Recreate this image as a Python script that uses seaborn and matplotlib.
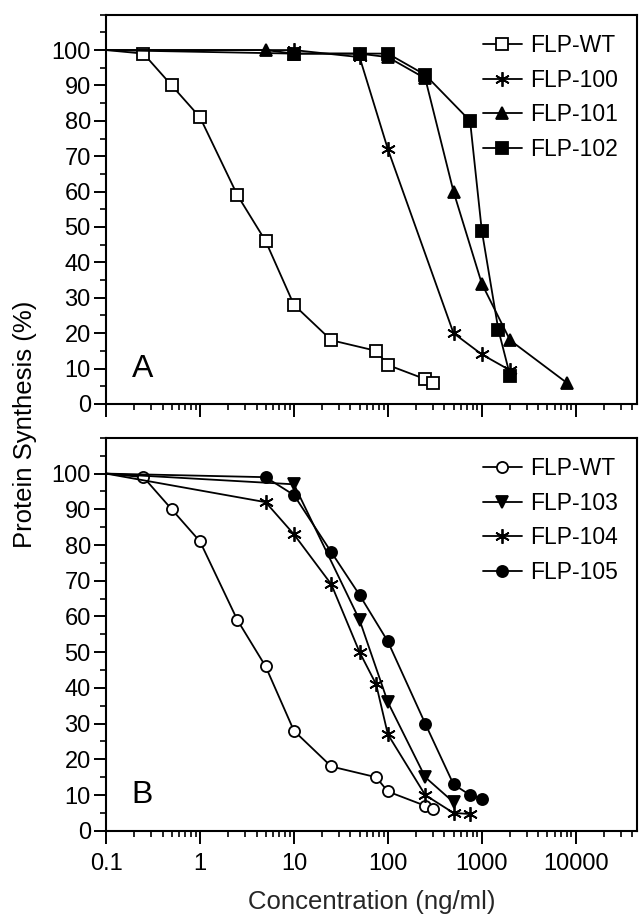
import numpy as np
import pandas as pd
import matplotlib
matplotlib.use("Agg")
import matplotlib.pyplot as plt
from matplotlib.ticker import LogLocator, FixedLocator, MultipleLocator, FuncFormatter
import seaborn as sns

# ---- data (x in ng/ml, y in % protein synthesis) ----
# first point (0.1, 100) is the line start at the axis, drawn without a marker
wt_x = [0.1, 0.25, 0.5, 1, 2.5, 5, 10, 25, 75, 100, 250, 300]
wt_y = [100, 99, 90, 81, 59, 46, 28, 18, 15, 11, 7, 6]

flp100_x = [0.1, 10, 50, 100, 500, 1000, 2000]
flp100_y = [100, 100, 98, 72, 20, 14, 9.5]

flp101_x = [0.1, 5, 10, 50, 100, 250, 500, 1000, 2000, 8000]
flp101_y = [100, 100, 99, 99, 98, 92, 60, 34, 18, 6]

flp102_x = [0.1, 10, 50, 100, 250, 750, 1000, 1500, 2000]
flp102_y = [100, 99, 99, 99, 93, 80, 49, 21, 8]

flp103_x = [0.1, 10, 50, 100, 250, 500]
flp103_y = [100, 97, 59, 36, 15, 8]

flp104_x = [0.1, 5, 10, 25, 50, 75, 100, 250, 500, 750]
flp104_y = [100, 92, 83, 69, 50, 41, 27, 10, 5, 4.7]

flp105_x = [0.1, 5, 10, 25, 50, 100, 250, 500, 750, 1000]
flp105_y = [100, 99, 94, 78, 66, 53, 30, 13, 10, 9]

x_ticks = [0.1, 1, 10, 100, 1000, 10000]
y_ticks = list(range(0, 101, 10))

ASTER = (6, 2, 0)

panel_a = [
    ("FLP-WT", wt_x, wt_y, "s", "white"),
    ("FLP-100", flp100_x, flp100_y, ASTER, "black"),
    ("FLP-101", flp101_x, flp101_y, "^", "black"),
    ("FLP-102", flp102_x, flp102_y, "s", "black"),
]
panel_b = [
    ("FLP-WT", wt_x, wt_y, "o", "white"),
    ("FLP-103", flp103_x, flp103_y, "v", "black"),
    ("FLP-104", flp104_x, flp104_y, ASTER, "black"),
    ("FLP-105", flp105_x, flp105_y, "o", "black"),
]

sns.set_style("ticks")
plt.rcParams["font.family"] = ["Liberation Sans", "DejaVu Sans"]
plt.rcParams["text.color"] = "black"
plt.rcParams["axes.edgecolor"] = "black"
plt.rcParams["xtick.color"] = "black"
plt.rcParams["ytick.color"] = "black"

fig = plt.figure(figsize=(6.39, 9.18), dpi=100)
ax_a = fig.add_axes([0.166, 0.560, 0.831, 0.424])
ax_b = fig.add_axes([0.166, 0.095, 0.831, 0.428])


def draw_panel(ax, series, letter, show_xlabels):
    for name, xs, ys, mk, face in series:
        df = pd.DataFrame({"conc": xs, "synth": ys})
        sns.lineplot(data=df, x="conc", y="synth", ax=ax, color="black",
                     linewidth=1.3, marker=mk, markersize=8 if mk != ASTER else 10.5,
                     markerfacecolor=face, markeredgecolor="black",
                     markeredgewidth=1.3, markevery=slice(1, None),
                     estimator=None, sort=False, label=name)
    ax.set_xscale("log")
    ax.set_xlim(0.1, 45000)
    ax.set_ylim(0, 110)
    ax.xaxis.set_major_locator(FixedLocator(x_ticks))
    ax.xaxis.set_minor_locator(LogLocator(base=10, subs=np.arange(2, 10)))
    ax.yaxis.set_major_locator(FixedLocator(y_ticks))
    ax.yaxis.set_minor_locator(MultipleLocator(5))
    if show_xlabels:
        ax.xaxis.set_major_formatter(FuncFormatter(lambda v, p: f"{v:g}"))
    else:
        ax.set_xticklabels([])
    ax.set_xlabel("")
    ax.set_ylabel("")
    ax.tick_params(which="major", length=9, width=1.4, labelsize=17, direction="out")
    ax.tick_params(which="minor", length=4, width=1.2, direction="out")
    ax.tick_params(axis="y", pad=2)
    ax.tick_params(axis="x", pad=7)
    for sp in ax.spines.values():
        sp.set_linewidth(1.5)
    ax.text(0.048, 0.09, letter, transform=ax.transAxes, fontsize=23,
            ha="left", va="center")
    ax.legend(loc="upper right", bbox_to_anchor=(1.0, 1.0), frameon=False,
              fontsize=16.5, handlelength=1.7, handletextpad=0.35,
              labelspacing=0.5, borderaxespad=0.45)


draw_panel(ax_a, panel_a, "A", False)
draw_panel(ax_b, panel_b, "B", True)

ax_b.set_xlabel("Concentration (ng/ml)", fontsize=18.5, labelpad=11)
fig.text(0.039, 0.538, "Protein Synthesis (%)", rotation=90, fontsize=18.5,
         ha="center", va="center")

fig.savefig("out.png", dpi=100)
